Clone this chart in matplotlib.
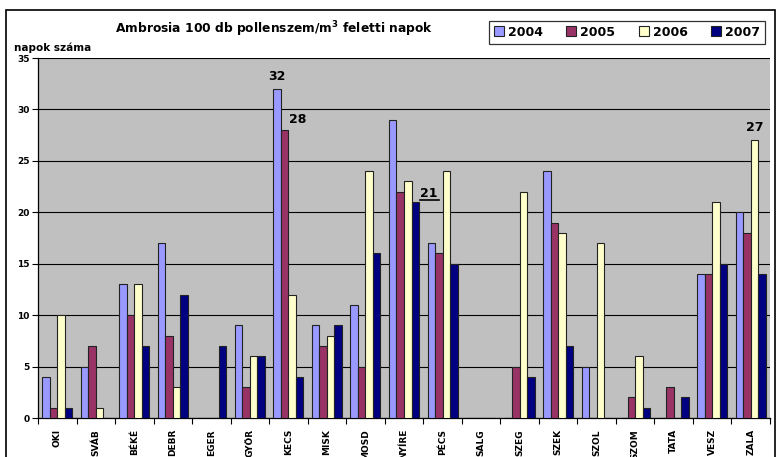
import matplotlib
matplotlib.use("Agg")
import matplotlib.pyplot as plt
import numpy as np
from matplotlib.patches import Rectangle

categories = ["OKI", "SVÁB", "BÉKÉ", "DEBR", "EGER", "GYŐR", "KECS", "MISK", "MOSD",
              "NYÍRE", "PÉCS", "SALG", "SZEG", "SZEK", "SZOL", "SZOM", "TATA", "VESZ", "ZALA"]
years = ["2004", "2005", "2006", "2007"]
v2004 = [4, 5, 13, 17, 0, 9, 32, 9, 11, 29, 17, 0, 0, 24, 5, 0, 0, 14, 20]
v2005 = [1, 7, 10, 8, 0, 3, 28, 7, 5, 22, 16, 0, 5, 19, 0, 2, 3, 14, 18]
v2006 = [10, 1, 13, 3, 0, 6, 12, 8, 24, 23, 24, 0, 22, 18, 17, 6, 0, 21, 27]
v2007 = [1, 0, 7, 12, 7, 6, 4, 9, 16, 21, 15, 0, 4, 7, 0, 1, 2, 15, 14]
yticks = [0, 5, 10, 15, 20, 25, 30, 35]
colors = ["#9999FF", "#993366", "#FFFFCC", "#000080"]

W, H = 777, 457
fig = plt.figure(figsize=(W / 100, H / 100), dpi=100)
fig.patch.set_facecolor("white")
ax = fig.add_axes([38 / W, 1 - 418 / H, (770 - 38) / W, (418 - 58) / H])
ax.set_facecolor("#C0C0C0")

x = np.arange(len(categories))
bw = 0.195
series = [v2004, v2005, v2006, v2007]
for i, (vals, c, lab) in enumerate(zip(series, colors, years)):
    ax.bar(x + (i - 1.5) * bw, vals, width=bw, color=c, edgecolor="#222222",
           linewidth=0.8, label=lab, zorder=3)

ax.set_xlim(-0.5, len(categories) - 0.5)
ax.set_ylim(0, 35)
ax.set_yticks(yticks)
ax.set_yticklabels([str(t) for t in yticks], fontsize=6.5, fontweight="bold")
ax.yaxis.grid(True, color="black", linewidth=0.8, zorder=1)
ax.set_axisbelow(True)
ax.set_xticks(x)
ax.set_xticklabels(categories, rotation=90, fontsize=6.5, fontweight="bold")
ax.tick_params(axis="x", length=0, pad=8)
ax.set_xticks(np.arange(-0.5, len(categories), 1), minor=True)
ax.tick_params(axis="x", which="minor", length=4, width=0.8)
ax.tick_params(axis="y", length=4, width=0.8, pad=2)
for s in ["top", "right"]:
    ax.spines[s].set_visible(False)
for s in ["left", "bottom"]:
    ax.spines[s].set_linewidth(0.9)

# annotations
ax.text(6 - 1.5 * bw, 32.6, "32", ha="center", va="bottom", fontsize=9, fontweight="bold")
ax.text(6 - 0.5 * bw + 0.12, 28.4, "28", ha="left", va="bottom", fontsize=9, fontweight="bold")
ax.text(9 + 1.5 * bw + 0.12, 21.2, "21", ha="left", va="bottom", fontsize=9, fontweight="bold")
ax.plot([9 + 1.5 * bw + 0.12, 9 + 1.5 * bw + 0.62], [21.15, 21.15], color="black", lw=1.2,
        zorder=4, clip_on=False)
ax.text(18 + 0.5 * bw, 27.6, "27", ha="center", va="bottom", fontsize=9, fontweight="bold")

# outer frame
fig.patches.append(Rectangle((6 / W, -0.05), (775 - 6) / W, 1.05 - 10 / H,
                             transform=fig.transFigure, fill=False, edgecolor="black",
                             linewidth=1.2))

fig.text(115 / W, 1 - 29 / H, "Ambrosia 100 db pollenszem/m$^\\mathbf{3}$ feletti napok",
         fontsize=8.8, fontweight="bold", va="center", ha="left")
fig.text(14 / W, 1 - 48 / H, "napok száma", fontsize=7.5, fontweight="bold", va="center", ha="left")

leg = fig.legend(loc="center", bbox_to_anchor=(627 / W, 1 - 32 / H), ncol=4,
                 prop={"weight": "bold", "size": 9}, frameon=True, fancybox=False,
                 edgecolor="black", handlelength=0.8, handleheight=0.8, handletextpad=0.3,
                 columnspacing=1.9, borderpad=0.4)
leg.get_frame().set_linewidth(0.9)

fig.savefig("out.png", dpi=100)
